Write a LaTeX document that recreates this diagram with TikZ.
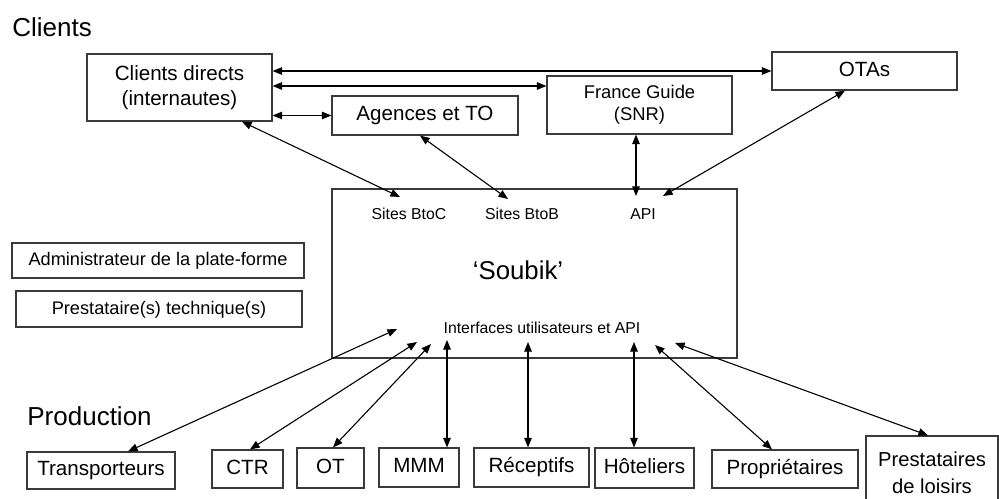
\documentclass[tikz,border=0pt]{standalone}
\usepackage{fontspec}
\setmainfont{Liberation Sans}
\usepackage{xcolor}
\usepackage{tikz}
\usetikzlibrary{positioning, arrows.meta}
\definecolor{boxgray}{HTML}{3A3A3A}

\tikzset{
  box/.style={draw=boxgray, line width=0.6pt, inner sep=0pt,
              font=\fontsize{10.3}{12.5}\selectfont},
  oneline/.style={text height=7.5pt, text depth=2.1pt},
  twoline/.style={align=center},
  link/.style={{Triangle[length=4.8pt,width=3.8pt]}-{Triangle[length=4.8pt,width=3.8pt]},
               line width=0.55pt},
  small/.style={inner sep=0pt, font=\fontsize{7.9}{9.5}\selectfont},
  heading/.style={inner sep=0pt, anchor=base west, font=\fontsize{13}{15}\selectfont},
}

\begin{document}
\begin{tikzpicture}[x=0.5pt, y=-0.5pt]
  \useasboundingbox (0,0) rectangle (999,498);

  % clients
  \node[heading] (clients) at (12,36) {Clients};
  \node[box, twoline, minimum width=92.5pt, minimum height=33.5pt] (cd) at (179.5,87.5) {Clients directs\\(internautes)};
  \node[box, oneline, minimum width=93pt, minimum height=19.5pt] (ag) at (425,115.5) {Agences et TO};
  \node[box, twoline, minimum width=92.5pt, minimum height=29pt,
        font=\fontsize{9.2}{11}\selectfont] (fg) at (639.5,105) {France Guide\\(SNR)};
  \node[box, oneline, minimum width=92.5pt, minimum height=19pt] (ota) at (864.5,71) {OTAs};

  % platform
  \node[box, minimum width=202.5pt, minimum height=84.5pt] (soubik) at (534.5,273.5) {};
  \node[inner sep=0pt, font=\fontsize{12.9}{15}\selectfont] (title) at (518,270) {‘Soubik’};
  \node[small] (btoc) at (409,214) {Sites BtoC};
  \node[small] (btob) at (522,214) {Sites BtoB};
  \node[small] (api) at (643,214) {API};
  \node[small] (iface) at (542,328) {Interfaces utilisateurs et API};

  \node[box, oneline, minimum width=146pt, minimum height=17.5pt,
        font=\fontsize{9.1}{11}\selectfont] (adm) at (158,260.5) {Administrateur de la plate-forme};
  \node[box, oneline, minimum width=143pt, minimum height=18pt,
        font=\fontsize{9.1}{11}\selectfont] (tech) at (159,309) {Prestataire(s) technique(s)};

  % production
  \node[heading] (production) at (27,425) {Production};
  \node[box, oneline, minimum width=74pt, minimum height=18.5pt] (trans) at (101,470.5) {Transporteurs};
  \node[box, oneline, minimum width=35.5pt, minimum height=19pt] (ctr) at (247.5,469) {CTR};
  \node[box, oneline, minimum width=33.5pt, minimum height=20pt] (ot) at (330.5,468) {OT};
  \node[box, oneline, minimum width=40pt, minimum height=19.5pt] (mmm) at (419,467.5) {MMM};
  \node[box, oneline, minimum width=57.5pt, minimum height=19.5pt] (rec) at (531.5,467.5) {Réceptifs};
  \node[box, oneline, minimum width=49.5pt, minimum height=20pt] (hot) at (644.5,468) {Hôteliers};
  \node[box, oneline, minimum width=73pt, minimum height=19pt] (prop) at (785,469) {Propriétaires};
  \node[box, twoline, minimum width=66pt, minimum height=37pt,
        font=\fontsize{10.1}{13.5}\selectfont] (loisirs) at (932,473) {Prestataires\\de loisirs};

  % arrow ends inside the platform
  \coordinate (up-btoc) at (400,197);
  \coordinate (up-btob) at (508,199);
  \coordinate (up-fg) at (636,196);
  \coordinate (up-ota) at (663,196);
  \coordinate (up-trans) at (397,329);
  \coordinate (up-ctr) at (417,342);
  \coordinate (up-ot) at (431,344);
  \coordinate (up-mmm) at (447,340);
  \coordinate (up-rec) at (528,342);
  \coordinate (up-hot) at (634,342);
  \coordinate (up-prop) at (655,345);
  \coordinate (up-loisirs) at (675,343);

  % clients links
  \draw[link] (cd.east |- ota.west) -- (ota.west);
  \draw[link] ([yshift=0.75pt]cd.east) -- ([yshift=0.75pt]cd.east -| fg.west);
  \draw[link] (ag.west -| cd.east) -- (ag.west);
  \draw[link] ([xshift=31.25pt]cd.south) -- (up-btoc);
  \draw[link] ([xshift=-2.5pt]ag.south) -- (up-btob);
  \draw[link] (up-fg |- fg.south) -- (up-fg);
  \draw[link] ([xshift=-9.75pt]ota.south) -- (up-ota);

  % production links
  \draw[link] ([xshift=13.5pt]trans.north) -- (up-trans);
  \draw[link] ([xshift=1.25pt]ctr.north) -- (up-ctr);
  \draw[link] ([xshift=1.25pt]ot.north) -- (up-ot);
  \draw[link] (up-mmm |- mmm.north) -- (up-mmm);
  \draw[link] (up-rec |- rec.north) -- (up-rec);
  \draw[link] (up-hot |- hot.north) -- (up-hot);
  \draw[link] ([xshift=-6.5pt]prop.north) -- (up-prop);
  \draw[link] ([xshift=-2pt]loisirs.north) -- (up-loisirs);
\end{tikzpicture}
\end{document}
